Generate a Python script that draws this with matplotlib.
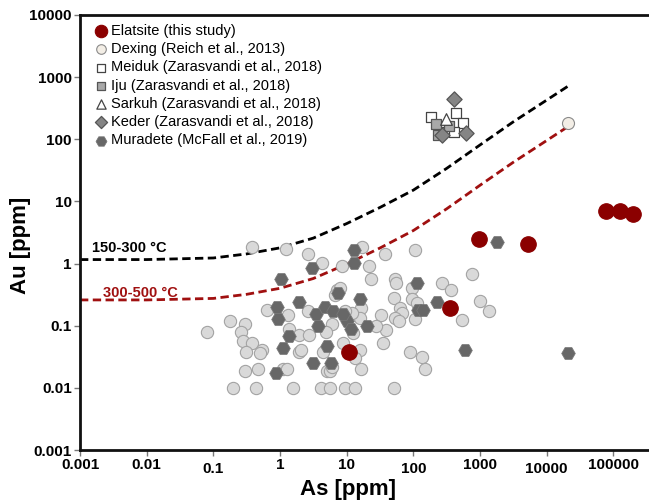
import matplotlib
matplotlib.use("Agg")
import matplotlib.pyplot as plt

plt.rcParams['font.family'] = ['Liberation Sans', 'DejaVu Sans']

# Elatsite (this study)
elat_as = [10.8, 355, 966, 5250, 78000, 126000, 197000]
elat_au = [0.038, 0.19, 2.5, 2.1, 6.9, 6.9, 6.3]

# Dexing
dex_as = [21000]
dex_au = [186]

# Meiduk / Iju / Sarkuh / Keder
mei_as = [184, 437, 556, 407, 251]
mei_au = [232, 260, 186, 133, 133]
iju_as = [219, 234, 343]
iju_au = [179, 119, 166]
sar_as = [309]
sar_au = [215]
ked_as = [407, 269, 617]
ked_au = [452, 119, 128]

# Muradete
mur_as = [12.9, 12.9, 3.0, 1.03, 113, 7.4, 15.8, 226, 117, 140, 1.93, 0.90, 0.93,
          3.5, 4.7, 6.2, 10.1, 11.6, 20, 3.7, 1.36, 1.1, 5.1, 3.1, 5.8, 0.87, 8.8,
          596, 1800, 21000]
mur_au = [1.68, 1.04, 0.86, 0.57, 0.49, 0.33, 0.27, 0.245, 0.18, 0.18, 0.245, 0.20, 0.13,
          0.157, 0.20, 0.175, 0.12, 0.09, 0.10, 0.10, 0.069, 0.043, 0.048, 0.0255, 0.0255,
          0.0176, 0.157, 0.041, 2.2, 0.037]

# other porphyry data (light grey circles)
oth_as = [0.080, 0.18, 0.30, 0.26, 0.28, 0.38, 0.31, 0.54, 0.50, 0.30, 0.47, 0.20, 0.44,
          1.57, 4.1, 5.6, 0.64, 1.3, 1.36, 1.93, 2.7, 1.93, 1.1, 1.27, 4.4, 5.1, 5.6, 2.6,
          6.0, 4.9, 8.8, 0.38, 1.23, 2.6, 4.3, 8.5, 7.2, 17, 22, 37.6, 106, 23, 53, 55, 95,
          270, 367, 760, 1000, 1365, 537, 51, 95, 113, 63, 68, 53, 61, 106, 33, 39, 35, 27.5,
          16.4, 15.8, 12, 9.4, 7.9, 6.7, 12.4, 15.8, 13.3, 6.0, 16.4, 89, 135, 150, 2.1,
          9.4, 13.3, 51]
oth_au = [0.078, 0.117, 0.108, 0.078, 0.056, 0.052, 0.038, 0.040, 0.037, 0.019, 0.020, 0.01,
          0.01, 0.01, 0.01, 0.01, 0.18, 0.15, 0.09, 0.072, 0.072, 0.038, 0.02, 0.02, 0.038,
          0.019, 0.019, 0.175, 0.108, 0.078, 0.052, 1.88, 1.74, 1.4, 1.04, 0.93, 0.37, 1.88,
          0.9, 1.45, 1.68, 0.57, 0.57, 0.48, 0.40, 0.49, 0.37, 0.67, 0.25, 0.175, 0.125, 0.28,
          0.27, 0.235, 0.19, 0.16, 0.135, 0.12, 0.13, 0.15, 0.084, 0.052, 0.10, 0.196, 0.135,
          0.16, 0.175, 0.40, 0.31, 0.075, 0.04, 0.03, 0.022, 0.02, 0.038, 0.031, 0.02, 0.04,
          0.01, 0.01, 0.01]

# Au solubility limits
curve_as = [0.001, 0.01, 0.1, 0.316, 1, 3.16, 10, 31.6, 100, 316, 1000, 3160, 10000, 22000]
hot_au = [0.26, 0.26, 0.275, 0.32, 0.40, 0.575, 0.98, 1.78, 3.4, 7.6, 18.2, 42.7, 95.5, 166]  # 300-500 C
cold_au = [1.16, 1.16, 1.23, 1.43, 1.79, 2.57, 4.4, 8.0, 15.2, 34, 81, 191, 427, 742]        # 150-300 C

xticks = [0.001, 0.01, 0.1, 1, 10, 100, 1000, 10000, 100000]
xlabels = ['0.001', '0.01', '0.1', '1', '10', '100', '1000', '10000', '100000']
yticks = [0.001, 0.01, 0.1, 1, 10, 100, 1000, 10000]
ylabels = ['0.001', '0.01', '0.1', '1', '10', '100', '1000', '10000']

fig = plt.figure(figsize=(6.49, 5.04), dpi=100)
ax = fig.add_axes([80 / 649, 54 / 504, 600 / 649, 435 / 504])
ax.set_xscale('log')
ax.set_yscale('log')
ax.set_xlim(0.001, 1e6)
ax.set_ylim(0.001, 10000)

ax.plot(curve_as, cold_au, color='black', lw=2, ls=(0, (3, 1.6)), zorder=2)
ax.plot(curve_as, hot_au, color='#a01010', lw=2, ls=(0, (3, 1.6)), zorder=2)
ax.text(0.0015, 1.8, '150-300 °C', fontsize=10.5, fontweight='bold', color='black', va='center')
ax.text(0.0022, 0.34, '300-500 °C', fontsize=10.5, fontweight='bold', color='#a01010', va='center')

ax.scatter(oth_as, oth_au, s=78, marker='o', facecolor='#d9d9d9', edgecolor='#a3a3a3', lw=0.8, zorder=3)
ax.scatter(mur_as, mur_au, s=95, marker='H', facecolor='#676767', edgecolor='#777777', lw=0.6, zorder=4,
           label='Muradete (McFall et al., 2019)')
ax.scatter(dex_as, dex_au, s=75, marker='o', facecolor='#f3eee6', edgecolor='#8a8a8a', lw=0.8, zorder=4,
           label='Dexing (Reich et al., 2013)')
ax.scatter(mei_as, mei_au, s=60, marker='s', facecolor='white', edgecolor='#444444', lw=0.9, zorder=4,
           label='Meiduk (Zarasvandi et al., 2018)')
ax.scatter(iju_as, iju_au, s=60, marker='s', facecolor='#a8a8a8', edgecolor='#555555', lw=0.9, zorder=4,
           label='Iju (Zarasvandi et al., 2018)')
ax.scatter(sar_as, sar_au, s=70, marker='^', facecolor='white', edgecolor='#444444', lw=0.9, zorder=5,
           label='Sarkuh (Zarasvandi et al., 2018)')
ax.scatter(ked_as, ked_au, s=60, marker='D', facecolor='#858585', edgecolor='#555555', lw=0.9, zorder=5,
           label='Keder (Zarasvandi et al., 2018)')
ax.scatter(elat_as, elat_au, s=125, marker='o', facecolor='#8b0000', edgecolor='#8b0000', lw=0.8, zorder=6,
           label='Elatsite (this study)')

h, l = ax.get_legend_handles_labels()
order = ['Elatsite (this study)', 'Dexing (Reich et al., 2013)', 'Meiduk (Zarasvandi et al., 2018)',
         'Iju (Zarasvandi et al., 2018)', 'Sarkuh (Zarasvandi et al., 2018)',
         'Keder (Zarasvandi et al., 2018)', 'Muradete (McFall et al., 2019)']
hs = [h[l.index(k)] for k in order]
fig.legend(hs, order, loc='upper left', bbox_to_anchor=(94 / 649, 1 - 24 / 504), frameon=False,
           fontsize=10.5, handlelength=0.9, handletextpad=0.25, labelspacing=0.29, borderpad=0,
           borderaxespad=0, scatterpoints=1, markerscale=0.8)

ax.set_xticks(xticks)
ax.set_xticklabels(xlabels)
ax.set_yticks(yticks)
ax.set_yticklabels(ylabels)
ax.minorticks_off()
ax.tick_params(axis='both', length=4, width=1, color='#777777', labelsize=11, pad=2)
for i, tk in enumerate(ax.xaxis.get_major_ticks()):
    if i in (2, 5, 7):
        tk.set_pad(4.5)
for t in ax.get_xticklabels() + ax.get_yticklabels():
    t.set_fontweight('bold')

for s in ['left', 'bottom', 'top']:
    ax.spines[s].set_linewidth(2)
    ax.spines[s].set_color('#111111')
ax.spines['right'].set_visible(False)

ax.set_xlabel('As [ppm]', fontsize=16, fontweight='bold')
ax.set_ylabel('Au [ppm]', fontsize=16, fontweight='bold')
ax.xaxis.set_label_coords(0.447, -0.066)
ax.yaxis.set_label_coords(-0.082, 0.47)

fig.savefig('out.png', dpi=100)
